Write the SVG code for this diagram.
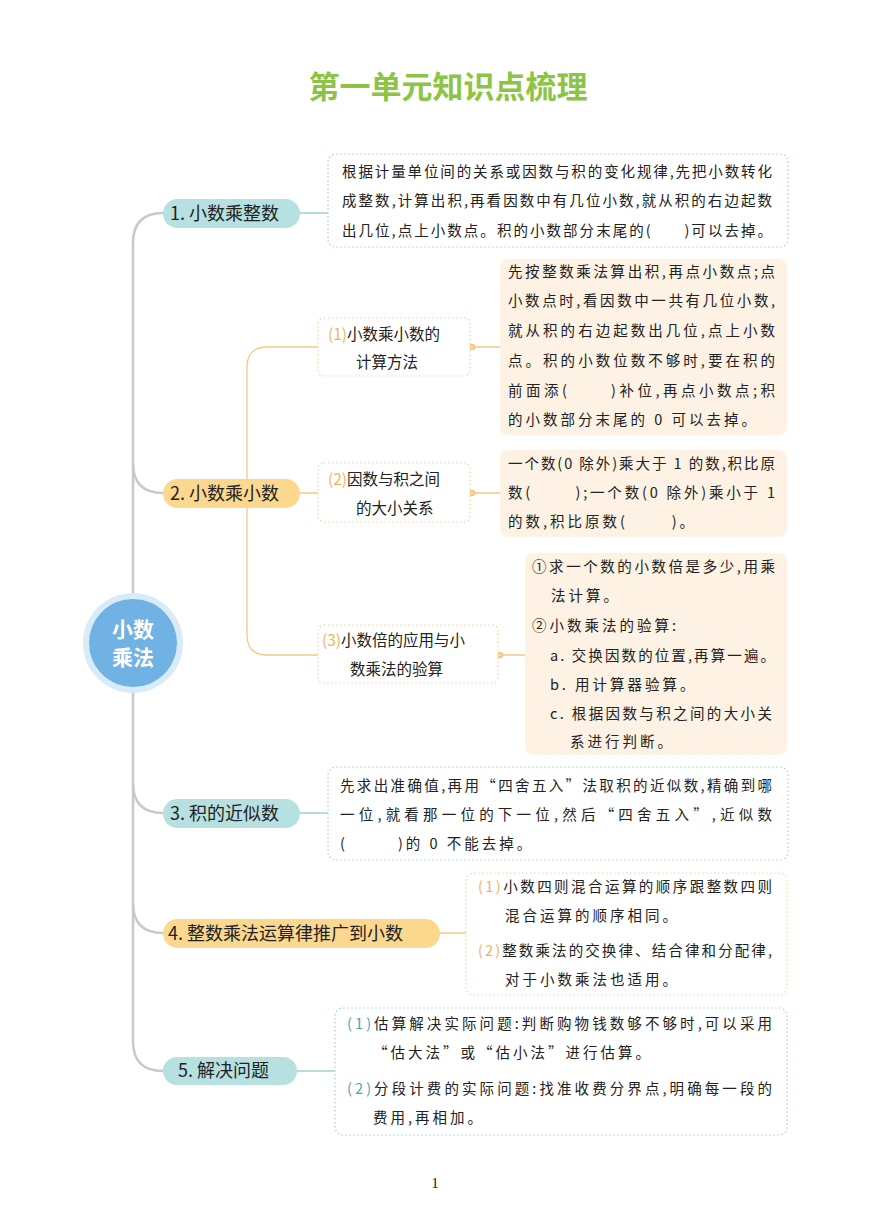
<svg xmlns="http://www.w3.org/2000/svg" width="870" height="1221" viewBox="0 0 870 1221">
<style>
text{font-family:"Noto Sans CJK SC","Noto Sans",sans-serif;fill:#222;white-space:pre}
.t{font-size:14.5px;letter-spacing:3px}
.s{font-size:15.5px}
.b{font-size:18px}
.tl{fill:#49a9ac}.or{fill:#f0b45a}
.tp{fill:#b7e0e0}.op{fill:#fbd88e}
.dt{fill:#fff;stroke:#9fd4d4;stroke-width:1.2;stroke-dasharray:1.5 2.5}
.do{fill:#fff;stroke:#f3d5a6;stroke-width:1.2;stroke-dasharray:1.5 2.5}
.fo{fill:#fdf2e3}
</style>
<rect width="870" height="1221" fill="#fff"/>
<text x="448" y="98" text-anchor="middle" style="font-size:31px;fill:#8dc444;font-weight:700">第一单元知识点梳理</text>
<g id="connectors" fill="none" stroke-width="2.5">
<path d="M163,213 Q133,213 133,243 V1041 Q133,1071 163,1071" stroke="#c9c9c9"/>
<path d="M133,463 Q133,493 163,493 M133,783 Q133,813 163,813 M133,903 Q133,933 163,933" stroke="#c9c9c9"/>
<g stroke-width="1.3">
<path d="M300,213 H328 M300,813 H328 M297,1071 H335" stroke="#9fd4d4"/>
<path d="M300,493 H318 M318,347 H267 Q247,347 247,367 V635 Q247,655 267,655 H318 M440,933 H466" stroke="#f3c987"/>
<path d="M473,347 H500 M473,493 H500 M501,655 H525" stroke="#f3c987"/>
</g>
<circle cx="472" cy="347" r="2" fill="#fff" stroke="#f3c987"/>
<circle cx="472" cy="493" r="2" fill="#fff" stroke="#f3c987"/>
<circle cx="500" cy="655" r="2" fill="#fff" stroke="#f3c987"/>
</g>
<g id="root">
<circle cx="133" cy="643" r="50" fill="#d9ebf7"/>
<circle cx="133" cy="643" r="44" fill="#6fb2e3"/>
<text x="133" y="637" text-anchor="middle" style="font-size:21px;fill:#fff;font-weight:700">小数</text>
<text x="133" y="665" text-anchor="middle" style="font-size:21px;fill:#fff;font-weight:700">乘法</text>
</g>
<g id="n1">
<rect x="163" y="199" width="137" height="29" rx="14.5" class="tp"/>
<text x="170" y="220" class="b">1. 小数乘整数</text>
<rect x="328" y="154" width="460" height="93" rx="8" class="dt"/>
<text x="342" y="177" class="t" textLength="433" lengthAdjust="spacing">根据计量单位间的关系或因数与积的变化规律,先把小数转化</text>
<text x="342" y="206" class="t" textLength="433" lengthAdjust="spacing">成整数,计算出积,再看因数中有几位小数,就从积的右边起数</text>
<text x="342" y="236" class="t" textLength="433" lengthAdjust="spacing">出几位,点上小数点。积的小数部分末尾的(      )可以去掉。</text>
</g>
<g id="n2">
<rect x="163" y="479" width="137" height="29" rx="14.5" class="op"/>
<text x="170" y="500" class="b">2. 小数乘小数</text>
</g>
<g id="n2a">
<rect x="318" y="318" width="152" height="58" rx="6" class="do"/>
<text x="328" y="340" class="s"><tspan class="or">(1)</tspan>小数乘小数的</text>
<text x="356" y="368" class="s">计算方法</text>
<rect x="500" y="259" width="287" height="176" rx="8" class="fo"/>
<text x="508" y="277" class="t" textLength="270" lengthAdjust="spacing">先按整数乘法算出积,再点小数点;点</text>
<text x="508" y="306" class="t" textLength="270" lengthAdjust="spacing">小数点时,看因数中一共有几位小数,</text>
<text x="508" y="336" class="t" textLength="270" lengthAdjust="spacing">就从积的右边起数出几位,点上小数</text>
<text x="508" y="366" class="t" textLength="270" lengthAdjust="spacing">点。积的小数位数不够时,要在积的</text>
<text x="508" y="396" class="t" textLength="270" lengthAdjust="spacing">前面添(      )补位,再点小数点;积</text>
<text x="508" y="425" class="t">的小数部分末尾的 0 可以去掉。</text>
</g>
<g id="n2b">
<rect x="318" y="463" width="152" height="59" rx="6" class="do"/>
<text x="328" y="485" class="s"><tspan class="or">(2)</tspan>因数与积之间</text>
<text x="356" y="514" class="s">的大小关系</text>
<rect x="500" y="450" width="287" height="87" rx="8" class="fo"/>
<text x="508" y="469" class="t" textLength="270" lengthAdjust="spacing">一个数(0 除外)乘大于 1 的数,积比原</text>
<text x="508" y="498" class="t" textLength="270" lengthAdjust="spacing">数(       );一个数(0 除外)乘小于 1</text>
<text x="508" y="527" class="t">的数,积比原数(       )。</text>
</g>
<g id="n2c">
<rect x="318" y="625" width="180" height="58" rx="6" class="do"/>
<text x="322" y="646" class="s"><tspan class="or">(3)</tspan>小数倍的应用与小</text>
<text x="350" y="675" class="s">数乘法的验算</text>
<rect x="525" y="553" width="262" height="202" rx="8" class="fo"/>
<text x="532" y="572" class="t" textLength="246" lengthAdjust="spacing">①求一个数的小数倍是多少,用乘</text>
<text x="551" y="601" class="t">法计算。</text>
<text x="532" y="631" class="t">②小数乘法的验算:</text>
<text x="550" y="661" class="t" textLength="228" lengthAdjust="spacing">a. 交换因数的位置,再算一遍。</text>
<text x="550" y="690" class="t">b. 用计算器验算。</text>
<text x="550" y="719" class="t" textLength="225" lengthAdjust="spacing">c. 根据因数与积之间的大小关</text>
<text x="570" y="747" class="t">系进行判断。</text>
</g>
<g id="n3">
<rect x="163" y="799" width="137" height="29" rx="14.5" class="tp"/>
<text x="170" y="820" class="b">3. 积的近似数</text>
<rect x="328" y="767" width="460" height="93" rx="8" class="dt"/>
<text x="340" y="791" class="t" textLength="435" lengthAdjust="spacing">先求出准确值,再用“四舍五入”法取积的近似数,精确到哪</text>
<text x="340" y="820" class="t" textLength="435" lengthAdjust="spacing">一位,就看那一位的下一位,然后“四舍五入”,近似数</text>
<text x="340" y="849" class="t">(        )的 0 不能去掉。</text>
</g>
<g id="n4">
<rect x="163" y="919" width="277" height="29" rx="14.5" class="op"/>
<text x="168" y="940" class="b">4. 整数乘法运算律推广到小数</text>
<rect x="466" y="873" width="321" height="122" rx="8" class="do"/>
<text x="478" y="892" class="t" textLength="297" lengthAdjust="spacing"><tspan class="or">(1)</tspan>小数四则混合运算的顺序跟整数四则</text>
<text x="505" y="921" class="t">混合运算的顺序相同。</text>
<text x="478" y="956" class="t" textLength="297" lengthAdjust="spacing"><tspan class="or">(2)</tspan>整数乘法的交换律、结合律和分配律,</text>
<text x="505" y="985" class="t">对于小数乘法也适用。</text>
</g>
<g id="n5">
<rect x="163" y="1057" width="134" height="28" rx="14" class="tp"/>
<text x="178" y="1077" class="b">5. 解决问题</text>
<rect x="335" y="1008" width="452" height="127" rx="8" class="dt"/>
<text x="347" y="1029" class="t" textLength="428" lengthAdjust="spacing"><tspan class="tl">(1)</tspan>估算解决实际问题:判断购物钱数够不够时,可以采用</text>
<text x="373" y="1058" class="t">“估大法”或“估小法”进行估算。</text>
<text x="347" y="1094" class="t" textLength="428" lengthAdjust="spacing"><tspan class="tl">(2)</tspan>分段计费的实际问题:找准收费分界点,明确每一段的</text>
<text x="373" y="1123" class="t">费用,再相加。</text>
</g>
<text x="435" y="1188" text-anchor="middle" style="font-family:'Liberation Serif',serif;font-size:15px">1</text>
</svg>
